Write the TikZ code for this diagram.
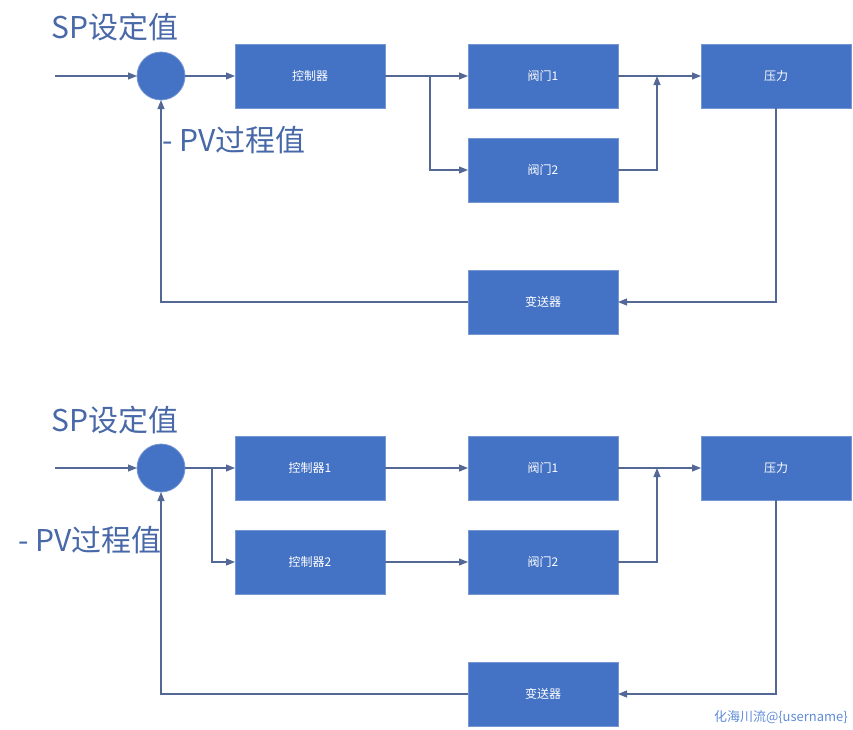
\documentclass[tikz,border=0pt]{standalone}
\usepackage{fontspec}
\setmainfont{Noto Sans CJK SC}
\usetikzlibrary{positioning,arrows.meta}

\definecolor{boxblue}{RGB}{68,114,196}
\definecolor{boxedge}{RGB}{118,150,212}
\definecolor{linegray}{RGB}{84,104,150}
\definecolor{labelblue}{RGB}{72,104,168}
\definecolor{markblue}{RGB}{95,140,215}

\tikzset{
	block/.style={rectangle, fill=boxblue, draw=boxedge, line width=0.8pt,
		minimum width=150pt, minimum height=64pt, inner sep=0pt, outer sep=0pt,
		text=white, font=\fontsize{12}{14}\selectfont},
	sumpt/.style={circle, fill=boxblue, draw=boxedge, line width=0.8pt,
		minimum size=48pt, inner sep=0pt, outer sep=0pt},
	wire/.style={draw=linegray, line width=1.1pt},
	sig/.style={wire, -{Triangle[length=9pt,width=7pt]}},
	biglabel/.style={text=labelblue, inner sep=0pt, font=\fontsize{30}{35}\selectfont},
}

\begin{document}
\begin{tikzpicture}[x=1pt, y=-1pt]
	%\draw[help lines] (0,0) grid (853,729);
	\useasboundingbox (0,0) rectangle (853,729);
	
	% one controller, two valves
	\node[sumpt] (sum1) at (161,76) {};
	\node[block, right=50pt of sum1] (ctl1) {控制器};
	\node[block, right=83pt of ctl1] (vlv11) {阀门1};
	\node[block, below=30pt of vlv11] (vlv12) {阀门2};
	\node[block, right=83pt of vlv11] (prs1) {压力};
	\node[block, below=68pt of vlv12] (tx1) {变送器};
	\node[biglabel, anchor=base west] (sp1) at (51,38) {SP设定值};
	\node[biglabel, anchor=base west] (pv1) at (162,151) {- PV过程值};
	
	\coordinate (in1) at (55,76);
	\coordinate (fork1) at (430,76);
	\coordinate (join1) at (657,76);
	\draw[sig] (in1) -- (sum1);
	\draw[sig] (sum1) -- (ctl1);
	\draw[wire] (ctl1) -- (fork1);
	\draw[sig] (fork1) -- (vlv11);
	\draw[sig] (fork1) |- (vlv12);
	\draw[sig] (vlv11) -- (prs1);
	\draw[sig] (vlv12) -| (join1);
	\draw[sig] (prs1) |- (tx1);
	\draw[sig] (tx1) -| (sum1);
	
	% two controllers, two valves
	\node[sumpt] (sum2) at (161,468) {};
	\node[block, right=50pt of sum2] (ctl21) {控制器1};
	\node[block, below=30pt of ctl21] (ctl22) {控制器2};
	\node[block, right=83pt of ctl21] (vlv21) {阀门1};
	\node[block, right=83pt of ctl22] (vlv22) {阀门2};
	\node[block, right=83pt of vlv21] (prs2) {压力};
	\node[block, below=68pt of vlv22] (tx2) {变送器};
	\node[biglabel, anchor=base west] (sp2) at (51,431) {SP设定值};
	\node[biglabel, anchor=base west] (pv2) at (18,551) {- PV过程值};
	
	\coordinate (in2) at (55,468);
	\coordinate (fork2) at (212,468);
	\coordinate (join2) at (657,468);
	\draw[sig] (in2) -- (sum2);
	\draw[wire] (sum2) -- (fork2);
	\draw[sig] (fork2) -- (ctl21);
	\draw[sig] (fork2) |- (ctl22);
	\foreach \a/\b in {ctl21/vlv21, ctl22/vlv22, vlv21/prs2}
		\draw[sig] (\a) -- (\b);
	\draw[sig] (vlv22) -| (join2);
	\draw[sig] (prs2) |- (tx2);
	\draw[sig] (tx2) -| (sum2);
	
	\node[text=markblue, anchor=east, inner sep=0pt, font=\fontsize{13}{15}\selectfont] (mark) at (848,717) {化海川流@\{username\}};
\end{tikzpicture}
\end{document}
